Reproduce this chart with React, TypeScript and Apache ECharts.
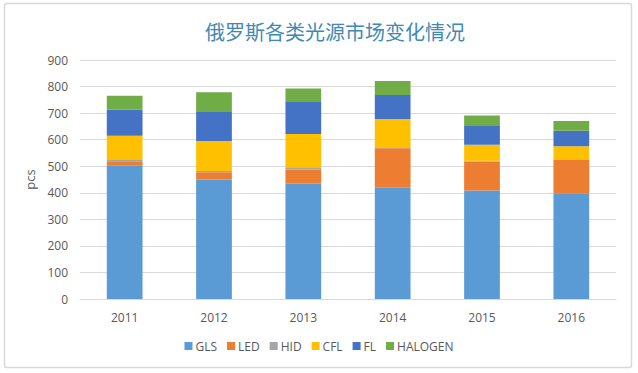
import React, { useEffect, useRef } from "react";
import * as echarts from "echarts";

const years = ["2011", "2012", "2013", "2014", "2015", "2016"];
const gls = [504, 450, 434, 419, 409, 398];
const led = [15, 27, 54, 149, 109, 125];
const hid = [4, 5, 8, 3, 3, 3];
const cfl = [92, 113, 125, 107, 60, 49];
const fl = [98, 109, 121, 90, 70, 59];
const halogen = [52, 75, 51, 53, 40, 36];

const seriesNames = ["GLS", "LED", "HID", "CFL", "FL", "HALOGEN"];
const seriesData = [gls, led, hid, cfl, fl, halogen];
const colors = ["#5B9BD5", "#ED7D31", "#A5A5A5", "#FFC000", "#4472C4", "#70AD47"];

export default function App() {
  const ref = useRef<HTMLDivElement>(null);
  useEffect(() => {
    document.body.style.margin = "0";
    const chart = echarts.init(ref.current!, null, { renderer: "svg" });
    chart.setOption({
      animation: false,
      backgroundColor: "#ffffff",
      color: colors,
      title: {
        text: "俄罗斯各类光源市场变化情况",
        left: 330,
        textAlign: "center",
        top: 16,
        textStyle: {
          fontFamily: "Noto Sans CJK SC",
          fontSize: 20,
          fontWeight: "normal",
          color: "#3f89b5",
        },
      },
      graphic: [
        {
          type: "rect",
          shape: { x: 4.5, y: 3.5, width: 627, height: 364, r: 2 },
          style: { fill: "none", stroke: "#d9d9d9", lineWidth: 1.5 },
          silent: true,
        },
      ],
      legend: {
        data: seriesNames,
        bottom: 16,
        left: "center",
        itemWidth: 8,
        itemHeight: 8,
        itemGap: 10,
        icon: "rect",
        textStyle: { color: "#595959", fontSize: 12, fontFamily: "Open Sans", padding: [0, 0, 0, -2] },
      },
      grid: { left: 80, right: 22, top: 60, bottom: 74, containLabel: false },
      xAxis: {
        type: "category",
        data: years,
        axisLine: { lineStyle: { color: "#d9d9d9" } },
        axisTick: { show: false },
        axisLabel: { color: "#595959", fontSize: 12, margin: 12, fontFamily: "Open Sans" },
      },
      yAxis: {
        type: "value",
        min: 0,
        max: 900,
        interval: 100,
        name: "pcs",
        nameLocation: "middle",
        nameGap: 40,
        nameRotate: 90,
        nameTextStyle: { color: "#595959", fontSize: 13, fontFamily: "Open Sans" },
        axisLine: { show: false },
        axisTick: { show: false },
        splitLine: { lineStyle: { color: "#d9d9d9" } },
        axisLabel: { color: "#595959", fontSize: 12, margin: 12, fontFamily: "Open Sans" },
      },
      series: seriesNames.map((name, i) => ({
        name,
        type: "bar",
        stack: "total",
        barWidth: "40%",
        data: seriesData[i],
        itemStyle: { color: colors[i] },
      })),
    });
    return () => chart.dispose();
  }, []);
  return <div ref={ref} style={{ width: 638, height: 373 }} />;
}
